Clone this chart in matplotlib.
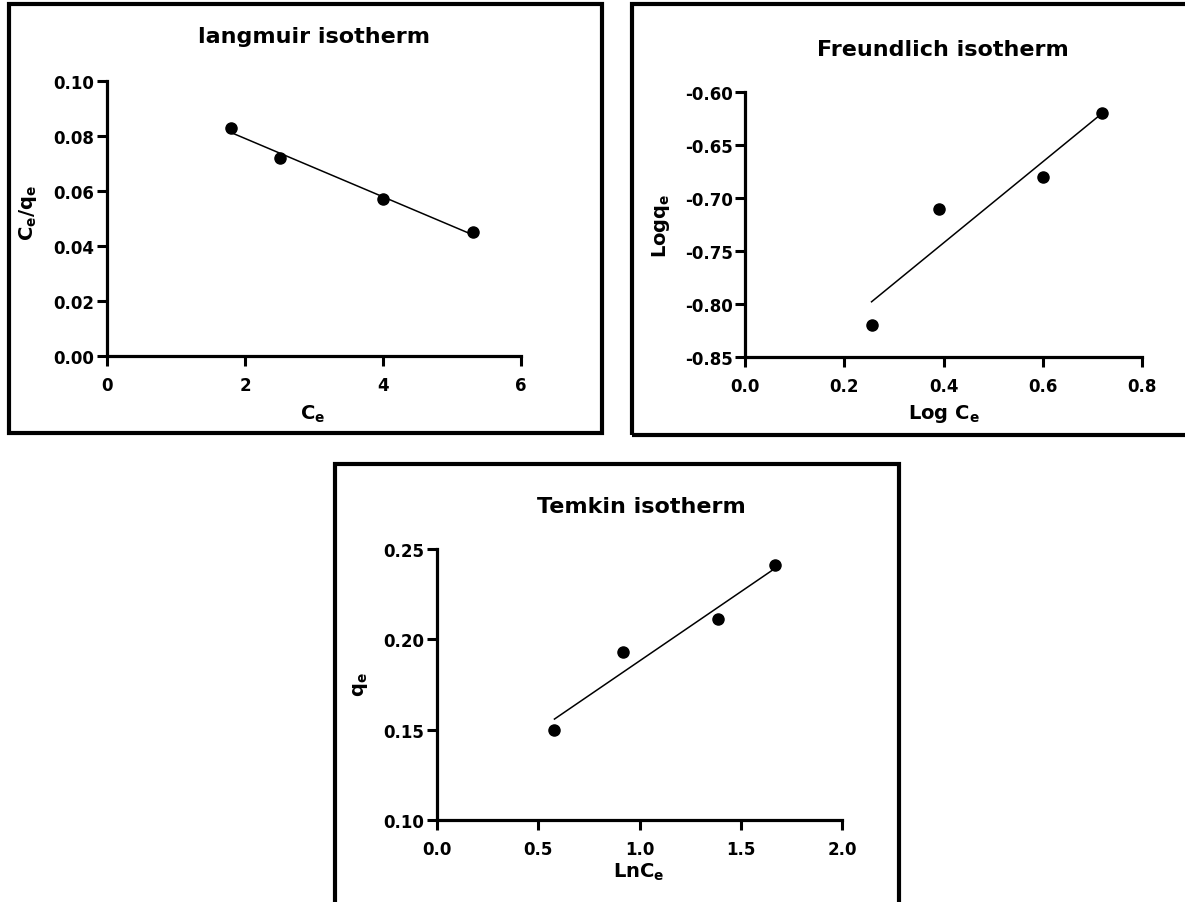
import matplotlib
matplotlib.use('Agg')
import matplotlib.pyplot as plt
from matplotlib.patches import Rectangle
import numpy as np

#%% Data

# Langmuir
ce_lang = [1.8, 2.5, 4.0, 5.3]
ceqe_lang = [0.083, 0.072, 0.057, 0.045]

# Freundlich
logce_freu = [0.255, 0.39, 0.60, 0.72]
logqe_freu = [-0.82, -0.71, -0.68, -0.62]

# Temkin
lnce_tem = [0.58, 0.92, 1.39, 1.67]
qe_tem = [0.150, 0.193, 0.211, 0.241]

#%% Layout helpers

W, H = 1185, 903

plt.rcParams['font.family'] = 'DejaVu Sans'
plt.rcParams['font.weight'] = 'bold'
plt.rcParams['mathtext.fontset'] = 'dejavusans'

fig = plt.figure(figsize=(W / 100, H / 100), dpi=100)
fig.patch.set_facecolor('white')


def box(x0, y0, x1, y1):
    return [x0 / W, 1 - y1 / H, (x1 - x0) / W, (y1 - y0) / H]


def pt(x, y):
    return x / W, 1 - y / H


def frame(x0, y0, x1, y1):
    fig.add_artist(Rectangle((x0 / W, 1 - y1 / H), (x1 - x0) / W, (y1 - y0) / H,
                             transform=fig.transFigure, fill=False,
                             edgecolor='black', linewidth=3))


def panel(rect, x, y, xlim, ylim, xticks, yticks, xfmt, yfmt):
    ax = fig.add_axes(box(*rect))
    coef = np.polyfit(x, y, 1)
    xs = np.array([min(x), max(x)])
    ax.plot(xs, np.polyval(coef, xs), '-', color='black', linewidth=1.1)
    ax.plot(x, y, 'o', color='black', markersize=8, clip_on=False)
    ax.set_xlim(xlim)
    ax.set_ylim(ylim)
    ax.set_xticks(xticks)
    ax.set_yticks(yticks)
    ax.set_xticklabels([xfmt % v for v in xticks])
    ax.set_yticklabels([yfmt % v for v in yticks])
    for s in ['top', 'right']:
        ax.spines[s].set_visible(False)
    for s in ['left', 'bottom']:
        ax.spines[s].set_linewidth(2.3)
    ax.tick_params(axis='both', direction='out', length=7.5, width=2.2,
                   labelsize=12)
    ax.tick_params(axis='x', pad=7)
    ax.tick_params(axis='y', pad=1.5)
    for lab in ax.get_xticklabels() + ax.get_yticklabels():
        lab.set_fontweight('bold')
    return ax


#%% Frames

frame(9, 5, 602, 434)
frame(632, 5, 1190, 436)
frame(335, 465, 899, 930)

#%% Langmuir

panel((107, 82, 521, 357), ce_lang, ceqe_lang, (0, 6), (0, 0.10),
      [0, 2, 4, 6], [0, 0.02, 0.04, 0.06, 0.08, 0.10], '%d', '%.2f')
fig.text(*pt(314, 37), 'langmuir isotherm', ha='center', va='center',
         fontsize=16, fontweight='bold')
fig.text(*pt(313, 414), r'$\mathbf{C_e}$', ha='center', va='center', fontsize=14)
fig.text(*pt(28, 213), r'$\mathbf{C_e/q_e}$', ha='center', va='center',
         fontsize=14, rotation=90)

#%% Freundlich

panel((745, 93, 1142, 358), logce_freu, logqe_freu, (0, 0.8), (-0.85, -0.60),
      [0, 0.2, 0.4, 0.6, 0.8], [-0.85, -0.80, -0.75, -0.70, -0.65, -0.60],
      '%.1f', '%.2f')
fig.text(*pt(943, 50), 'Freundlich isotherm', ha='center', va='center',
         fontsize=16, fontweight='bold')
fig.text(*pt(944, 414), r'$\mathbf{Log\ C_e}$', ha='center', va='center', fontsize=14)
fig.text(*pt(661, 226), r'$\mathbf{Logq_e}$', ha='center', va='center',
         fontsize=14, rotation=90)

#%% Temkin

panel((437, 550, 842, 821), lnce_tem, qe_tem, (0, 2.0), (0.10, 0.25),
      [0, 0.5, 1.0, 1.5, 2.0], [0.10, 0.15, 0.20, 0.25], '%.1f', '%.2f')
fig.text(*pt(641, 507), 'Temkin isotherm', ha='center', va='center',
         fontsize=16, fontweight='bold')
fig.text(*pt(639, 872), r'$\mathbf{LnC_e}$', ha='center', va='center', fontsize=14)
fig.text(*pt(361, 685), r'$\mathbf{q_e}$', ha='center', va='center',
         fontsize=14, rotation=90)

plt.savefig('out.png', dpi=100)
